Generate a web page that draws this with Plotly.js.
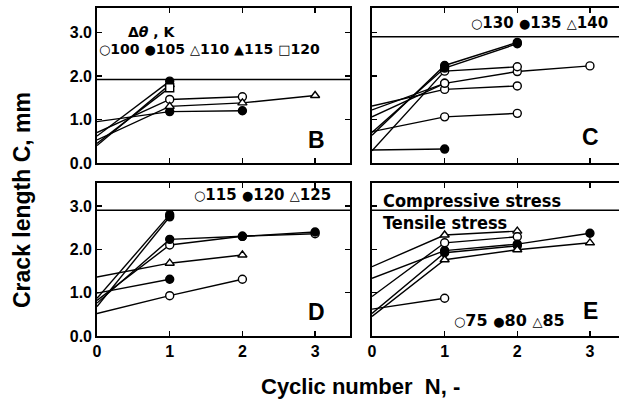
<!DOCTYPE html>
<html>
<head>
<meta charset="utf-8">
<script src="https://cdn.plot.ly/plotly-3.0.1.min.js"></script>
<style>html,body{margin:0;padding:0;background:#fff;}#chart{width:619px;height:410px;}</style>
</head>
<body>
<div id="chart"></div>
<script>
// ---------- DATA (crack length C in mm vs cyclic number N) ----------
const cycles = [0, 1, 2, 3];
const yTicks = [0, 1, 2, 3];

// Panel B : Δθ = 100,105,110,115,120 K
const B_o100_N = [0, 1, 2],    B_o100_C = [0.70, 1.46, 1.52];
const B_f105_N = [0, 1],       B_f105_C = [0.62, 1.88];
const B_f105b_N = [0, 1, 2],   B_f105b_C = [0.95, 1.18, 1.20];
const B_t110_N = [0, 1, 2, 3], B_t110_C = [0.53, 1.30, 1.38, 1.55];
const B_T115_N = [0, 1],       B_T115_C = [0.40, 1.80];
const B_s120_N = [0, 1],       B_s120_C = [0.45, 1.73];
const B_boundary = 1.92;

// Panel C : Δθ = 130,135,140 K
const C_o130a_N = [0, 1, 2, 3], C_o130a_C = [1.06, 1.83, 2.10, 2.23];
const C_o130b_N = [0, 1, 2],    C_o130b_C = [1.31, 1.69, 1.77];
const C_o130c_N = [0, 1, 2],    C_o130c_C = [0.72, 1.06, 1.14];
const C_o130d_N = [0, 1, 2],    C_o130d_C = [0.28, 2.11, 2.21];
const C_o130e_N = [0, 1],       C_o130e_C = [1.22, 1.83];
const C_f135a_N = [0, 1, 2],    C_f135a_C = [0.64, 2.24, 2.77];
const C_f135b_N = [0, 1, 2],    C_f135b_C = [0.70, 2.18, 2.74];
const C_f135c_N = [0, 1],       C_f135c_C = [0.30, 0.32];
const C_boundary = 2.9;

// Panel D : Δθ = 115,120,125 K
const D_f120a_N = [0, 1],       D_f120a_C = [0.87, 2.80];
const D_f120b_N = [0, 1],       D_f120b_C = [0.68, 2.75];
const D_f120c_N = [0, 1, 2, 3], D_f120c_C = [0.76, 2.23, 2.30, 2.40];
const D_o115a_N = [0, 1, 2, 3], D_o115a_C = [0.82, 2.10, 2.30, 2.36];
const D_t125_N = [0, 1, 2],     D_t125_C = [1.36, 1.68, 1.87];
const D_f120d_N = [0, 1],       D_f120d_C = [0.99, 1.31];
const D_o115b_N = [0, 1, 2],    D_o115b_C = [0.52, 0.93, 1.31];
const D_boundary = 2.9;

// Panel E : Δθ = 75,80,85 K
const E_t85a_N = [0, 1, 2],     E_t85a_C = [1.60, 2.33, 2.42];
const E_o75a_N = [0, 1, 2],     E_o75a_C = [0.91, 2.15, 2.29];
const E_f80a_N = [0, 1, 2, 3],  E_f80a_C = [1.33, 1.97, 2.12, 2.37];
const E_f80b_N = [0, 1, 2],     E_f80b_C = [0.52, 1.92, 2.08];
const E_t85b_N = [0, 1, 2, 3],  E_t85b_C = [0.45, 1.76, 1.99, 2.15];
const E_o75b_N = [0, 1],        E_o75b_C = [0.62, 0.87];
const E_boundary = 2.9;

// Legend labels (Δθ in K) written inside each panel
const B_labels = ['100', '105', '110', '115', '120'];
const C_labels = ['130', '135', '140'];
const D_labels = ['115', '120', '125'];
const E_labels = ['75', '80', '85'];

// ---------- STYLE ----------
const W = 619, H = 410;
const FONT = 'Liberation Sans, Arial, Helvetica, sans-serif';
const WIDE = 'DejaVu Sans, Liberation Sans, sans-serif';
const NARROW = 'Liberation Sans Narrow, DejaVu Sans Condensed, Arial Narrow, sans-serif';
const px = v => v / W;
const py = v => 1 - v / H;

const SYM = {
  o: {symbol: 'circle', color: '#fff', ch: '○'},
  f: {symbol: 'circle', color: '#000', ch: '●'},
  t: {symbol: 'triangle-up', color: '#fff', ch: '△'},
  T: {symbol: 'triangle-up', color: '#000', ch: '▲'},
  s: {symbol: 'square', color: '#fff', ch: '□'}
};
function tr(N, C, kind, ax) {
  const s = SYM[kind];
  return {
    x: N, y: C, xaxis: 'x' + ax, yaxis: 'y' + ax,
    type: 'scatter', mode: 'lines+markers', showlegend: false, hoverinfo: 'skip',
    line: {color: '#000', width: 1.4},
    // no symbol is drawn at the initial state N = 0
    marker: {symbol: s.symbol, size: N.map(n => n === 0 ? 0 : 8), color: s.color, opacity: 1,
             line: {color: '#000', width: 1.4}}
  };
}
const traces = [
  tr(B_o100_N, B_o100_C, 'o', ''), tr(B_f105_N, B_f105_C, 'f', ''), tr(B_f105b_N, B_f105b_C, 'f', ''),
  tr(B_t110_N, B_t110_C, 't', ''), tr(B_T115_N, B_T115_C, 'T', ''), tr(B_s120_N, B_s120_C, 's', ''),
  tr(C_o130a_N, C_o130a_C, 'o', '2'), tr(C_o130b_N, C_o130b_C, 'o', '2'), tr(C_o130c_N, C_o130c_C, 'o', '2'),
  tr(C_o130d_N, C_o130d_C, 'o', '2'), tr(C_o130e_N, C_o130e_C, 'o', '2'),
  tr(C_f135a_N, C_f135a_C, 'f', '2'), tr(C_f135b_N, C_f135b_C, 'f', '2'), tr(C_f135c_N, C_f135c_C, 'f', '2'),
  tr(D_f120a_N, D_f120a_C, 'f', '3'), tr(D_f120b_N, D_f120b_C, 'f', '3'), tr(D_o115a_N, D_o115a_C, 'o', '3'),
  tr(D_f120c_N, D_f120c_C, 'f', '3'), tr(D_t125_N, D_t125_C, 't', '3'), tr(D_f120d_N, D_f120d_C, 'f', '3'),
  tr(D_o115b_N, D_o115b_C, 'o', '3'),
  tr(E_t85a_N, E_t85a_C, 't', '4'), tr(E_o75a_N, E_o75a_C, 'o', '4'), tr(E_f80a_N, E_f80a_C, 'f', '4'),
  tr(E_f80b_N, E_f80b_C, 'f', '4'), tr(E_t85b_N, E_t85b_C, 't', '4'), tr(E_o75b_N, E_o75b_C, 'o', '4')
];

const tickFont = {family: FONT, size: 16, color: '#000', weight: 'bold'};
function xax(domain, range, anchor, labels, mirror) {
  return {domain, range, anchor, tickvals: cycles, ticktext: cycles.map(String), showticklabels: labels,
    ticks: 'inside', ticklen: 5, tickwidth: 1.5, tickcolor: '#000', showgrid: false, zeroline: false,
    showline: true, linecolor: '#000', linewidth: 1.8, mirror: mirror, tickfont: tickFont, fixedrange: true};
}
function yax(domain, range, anchor, labels, mirror) {
  return {domain, range, anchor, tickvals: yTicks, tickformat: '.1f', showticklabels: labels,
    ticks: 'inside', ticklen: 5, tickwidth: 1.5, tickcolor: '#000', showgrid: false, zeroline: false,
    showline: true, linecolor: '#000', linewidth: 1.8, mirror: mirror, tickfont: tickFont, fixedrange: true};
}
const colL = [px(97), px(350)], colR = [px(372), 1];
const rowT = [py(163), py(8)], rowB = [py(336), py(183)];
const xRangeL = [0, 3.48], xRangeR = [0, 3.40];
const yRangeT = [0, 3.56], yRangeB = [0, 3.53];

function hline(ax, val) {
  return {type: 'line', xref: 'x' + ax + ' domain', yref: 'y' + ax, x0: 0, x1: 1, y0: val, y1: val,
    line: {color: '#000', width: 1.5}};
}
function ann(text, x, y, size, xanchor, family, extra) {
  return Object.assign({text, x: px(x), y: py(y), xref: 'paper', yref: 'paper', showarrow: false,
    xanchor: xanchor || 'center', yanchor: 'middle',
    font: {family: family || FONT, size, color: '#000', weight: 'bold'}}, extra || {});
}
function legendText(kinds, labels, symSize) {
  return labels.map((l, i) => '<span style="font-size:' + symSize + 'px">' + SYM[kinds[i]].ch + '</span>' + l).join(' ');
}

const layout = {
  width: W, height: H, margin: {l: 0, r: 0, t: 0, b: 0},
  paper_bgcolor: '#fff', plot_bgcolor: '#fff', showlegend: false,
  xaxis: xax(colL, xRangeL, 'y', false, 'ticks'),
  yaxis: yax(rowT, yRangeT, 'x', true, 'ticks'),
  xaxis2: xax(colR, xRangeR, 'y2', false, 'ticks'),
  yaxis2: yax(rowT, yRangeT, 'x2', false, false),
  xaxis3: xax(colL, xRangeL, 'y3', true, 'ticks'),
  yaxis3: yax(rowB, yRangeB, 'x3', true, 'ticks'),
  xaxis4: xax(colR, xRangeR, 'y4', true, 'ticks'),
  yaxis4: yax(rowB, yRangeB, 'x4', false, false),
  shapes: [hline('', B_boundary), hline('2', C_boundary), hline('3', D_boundary), hline('4', E_boundary)],
  annotations: [
    ann('Δ<i>θ</i> , K', 152, 32, 14, 'center', WIDE),
    ann(legendText(['o', 'f', 't', 'T', 's'], B_labels, 13), 97, 49, 14, 'left', WIDE),
    ann(legendText(['o', 'f', 't'], C_labels, 13), 469, 23, 15, 'left', WIDE),
    ann(legendText(['o', 'f', 't'], D_labels, 13), 192, 195, 15, 'left', WIDE),
    ann(legendText(['o', 'f', 't'], E_labels, 13), 452, 320, 16, 'left', WIDE),
    ann('Compressive stress', 381, 200, 18, 'left', NARROW),
    ann('Tensile stress', 381, 222, 18, 'left', NARROW),
    ann('B', 316, 140, 23),
    ann('C', 590, 137, 23),
    ann('D', 316, 312, 23),
    ann('E', 590, 311, 23),
    ann('Crack length C, mm', 22, 200, 23, 'center', FONT, {textangle: -90}),
    ann('Cyclic number  N, -', 360, 386, 22)
  ]
};

Plotly.newPlot('chart', traces, layout, {staticPlot: true, displayModeBar: false});
</script>
</body>
</html>
